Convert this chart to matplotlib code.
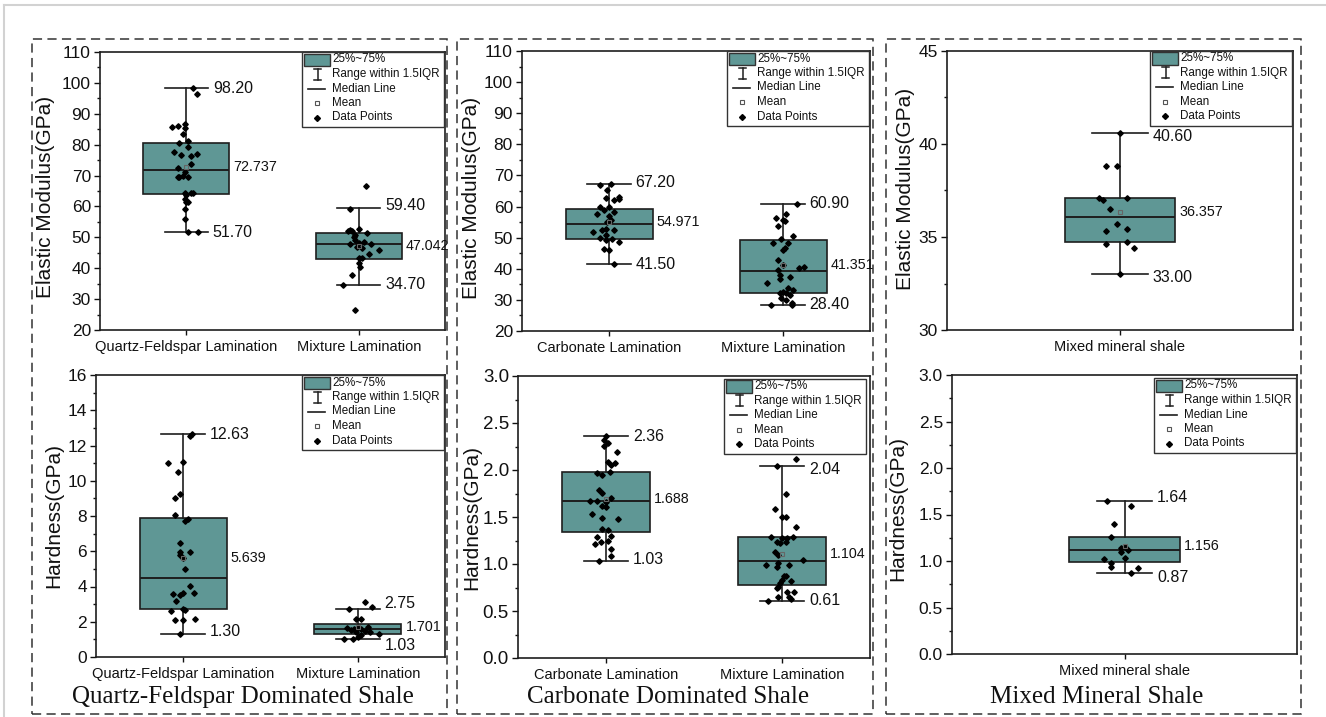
import matplotlib
matplotlib.use("Agg")
import matplotlib.pyplot as plt
import matplotlib.transforms as mtransforms
from matplotlib.patches import Rectangle
from matplotlib.lines import Line2D
from matplotlib.ticker import MultipleLocator, FormatStrFormatter

plt.rcParams['font.family'] = ['Liberation Sans', 'DejaVu Sans']

# ---------------------------------------------------------------- data
qf_cats = ["Quartz-Feldspar Lamination", "Mixture Lamination"]
carb_cats = ["Carbonate Lamination", "Mixture Lamination"]
mixed_cats = ["Mixed mineral shale"]

# Elastic modulus (GPa) - quartz-feldspar dominated shale
em_qf_lam = [98.2, 96.4, 85.7, 85.9, 86.7, 85.4, 83.4, 80.5, 81.1, 79.4, 77.6,
             76.7, 76.9, 76.2, 73.8, 72.4, 71.1, 69.7, 69.5, 69.5, 69.4, 64.5,
             64.3, 64.5, 63.8, 62.4, 61.4, 61.4, 59.1, 56.0, 51.7, 51.7]
em_qf_lam_dx = [0.04, 0.06, -0.08, -0.05, -0.01, -0.01, -0.02, -0.04, 0.01, 0.01,
                -0.07, -0.03, 0.06, 0.03, 0.03, -0.05, -0.01, -0.02, -0.05, -0.04,
                0.01, -0.01, 0.03, 0.04, 0.00, -0.01, 0.00, 0.01, -0.01, -0.01,
                0.01, 0.07]
em_qf_mix = [66.7, 59.3, 52.8, 52.2, 52.4, 51.9, 51.5, 50.8, 50.0, 49.2, 48.3,
             48.4, 47.9, 47.8, 46.8, 46.5, 45.9, 44.5, 43.2, 43.2, 41.8, 40.5,
             37.7, 34.7, 26.5]
em_qf_mix_dx = [0.04, -0.05, 0.00, -0.06, -0.05, -0.04, 0.05, -0.02, -0.03, -0.02,
                0.00, 0.03, 0.07, -0.05, -0.01, 0.02, 0.12, 0.06, 0.00, 0.02,
                0.00, 0.01, -0.04, -0.09, -0.02]
em_qf_whislo = [51.70, 34.70]
em_qf_q1 = [64.0, 43.0]
em_qf_med = [71.8, 47.7]
em_qf_q3 = [80.7, 51.3]
em_qf_whishi = [98.20, 59.40]
em_qf_mean = [72.737, 47.042]

# Elastic modulus (GPa) - carbonate dominated shale
em_carb_lam = [66.8, 67.2, 65.3, 62.6, 62.1, 62.4, 63.0, 59.8, 58.9, 59.8, 57.6,
               58.3, 57.0, 55.7, 55.1, 51.7, 52.5, 52.7, 52.5, 50.9, 49.8, 49.3,
               49.5, 48.7, 46.3, 46.0, 41.5]
em_carb_lam_dx = [-0.05, 0.01, -0.01, -0.02, 0.03, 0.06, 0.06, -0.05, -0.03, 0.00,
                  -0.07, 0.03, 0.00, 0.01, -0.01, -0.09, -0.04, -0.02, 0.03, -0.02,
                  -0.05, -0.02, 0.02, 0.06, -0.03, 0.00, 0.03]
em_carb_mix = [60.9, 57.5, 56.2, 55.5, 55.7, 53.8, 50.5, 49.5, 48.4, 48.2, 46.6,
               46.0, 42.8, 41.2, 40.1, 40.7, 39.6, 38.0, 37.5, 35.5, 36.6, 33.7,
               33.2, 32.6, 32.1, 32.1, 31.6, 30.5, 30.0, 28.9, 28.4, 28.4]
em_carb_mix_dx = [0.08, 0.02, -0.04, 0.01, 0.00, -0.03, 0.06, -0.01, -0.06, 0.03,
                  0.01, 0.00, -0.03, 0.00, 0.09, 0.12, -0.03, -0.02, 0.04, -0.09,
                  -0.02, 0.03, 0.06, 0.00, -0.02, 0.02, 0.04, -0.01, 0.02, 0.05,
                  -0.07, 0.05]
em_carb_whislo = [41.50, 28.40]
em_carb_q1 = [49.6, 32.3]
em_carb_med = [54.3, 39.4]
em_carb_q3 = [59.3, 49.2]
em_carb_whishi = [67.20, 60.90]
em_carb_mean = [54.971, 41.351]

# Elastic modulus (GPa) - mixed mineral shale
em_mixed = [40.6, 38.82, 38.82, 37.11, 36.99, 37.11, 36.51, 35.70, 35.32, 35.41,
            34.61, 34.71, 34.39, 33.0]
em_mixed_dx = [0.00, -0.04, -0.01, -0.06, -0.05, 0.02, -0.03, -0.01, -0.04, 0.02,
               -0.04, 0.02, 0.04, 0.00]
em_mixed_whislo = [33.00]
em_mixed_q1 = [34.71]
em_mixed_med = [36.09]
em_mixed_q3 = [37.08]
em_mixed_whishi = [40.60]
em_mixed_mean = [36.357]

# Hardness (GPa) - quartz-feldspar dominated shale
h_qf_lam = [12.55, 12.63, 11.02, 11.08, 10.51, 9.03, 9.24, 8.05, 7.82, 7.71, 6.48,
            5.96, 5.93, 5.77, 5.64, 5.00, 4.01, 3.58, 3.65, 3.50, 3.63, 3.16, 2.75,
            2.61, 2.65, 2.08, 2.12, 2.18, 1.31]
h_qf_lam_dx = [0.04, 0.05, -0.09, 0.00, -0.03, -0.05, -0.02, -0.05, 0.03, 0.01,
               -0.02, -0.02, 0.04, -0.02, 0.00, 0.01, 0.04, -0.06, 0.00, -0.02,
               0.06, -0.04, 0.00, -0.07, 0.01, -0.05, 0.00, 0.07, -0.02]
h_qf_mix = [3.12, 2.84, 2.75, 2.18, 2.18, 1.67, 1.61, 1.67, 1.51, 1.61, 1.70, 1.42,
            1.46, 1.42, 1.32, 1.23, 1.14, 1.03, 1.04]
h_qf_mix_dx = [0.04, 0.08, -0.05, -0.01, 0.02, -0.06, -0.02, 0.00, -0.04, 0.02,
               0.06, -0.01, 0.04, 0.07, 0.12, 0.02, 0.00, -0.08, -0.03]
h_qf_whislo = [1.30, 1.03]
h_qf_q1 = [2.71, 1.29]
h_qf_med = [4.49, 1.57]
h_qf_q3 = [7.91, 1.89]
h_qf_whishi = [12.63, 2.75]
h_qf_mean = [5.639, 1.701]

# Hardness (GPa) - carbonate dominated shale
h_carb_lam = [2.36, 2.32, 2.29, 2.26, 2.19, 2.09, 2.07, 2.05, 1.97, 1.98, 1.95,
              1.79, 1.76, 1.67, 1.67, 1.70, 1.66, 1.62, 1.61, 1.53, 1.49, 1.48,
              1.37, 1.36, 1.29, 1.30, 1.21, 1.23, 1.24, 1.16, 1.09, 1.03]
h_carb_lam_dx = [0.00, -0.01, 0.01, -0.01, 0.06, 0.01, 0.05, 0.03, -0.05, 0.02,
                 -0.02, -0.04, -0.02, -0.09, -0.05, 0.03, 0.00, -0.02, 0.00, -0.08,
                 -0.02, 0.07, -0.02, 0.01, -0.05, 0.03, -0.06, -0.03, 0.01, 0.03,
                 0.03, -0.04]
h_carb_mix = [2.12, 2.04, 1.75, 1.58, 1.50, 1.50, 1.39, 1.29, 1.28, 1.28, 1.29,
              1.23, 1.22, 1.23, 1.13, 1.10, 1.04, 0.99, 0.97, 0.99, 1.01, 0.87,
              0.87, 0.83, 0.82, 0.80, 0.76, 0.74, 0.70, 0.70, 0.65, 0.65, 0.63,
              0.61]
h_carb_mix_dx = [0.08, -0.03, 0.02, -0.04, 0.00, 0.02, 0.08, -0.06, 0.00, 0.03,
                 0.06, -0.03, -0.01, 0.02, -0.04, -0.02, 0.12, -0.09, -0.03, 0.04,
                 -0.02, 0.01, 0.02, 0.00, 0.05, -0.01, -0.02, -0.03, 0.03, 0.07,
                 -0.02, 0.04, 0.05, -0.08]
h_carb_whislo = [1.03, 0.61]
h_carb_q1 = [1.345, 0.78]
h_carb_med = [1.674, 1.037]
h_carb_q3 = [1.978, 1.288]
h_carb_whishi = [2.36, 2.04]
h_carb_mean = [1.688, 1.104]

# Hardness (GPa) - mixed mineral shale
h_mixed = [1.64, 1.59, 1.40, 1.26, 1.14, 1.15, 1.12, 1.10, 1.02, 1.03, 0.98, 0.94,
           0.93, 0.87]
h_mixed_dx = [-0.05, 0.02, -0.03, -0.04, -0.01, 0.00, 0.01, -0.01, -0.06, 0.00,
              -0.04, -0.04, 0.04, 0.02]
h_mixed_whislo = [0.87]
h_mixed_q1 = [0.988]
h_mixed_med = [1.114]
h_mixed_q3 = [1.261]
h_mixed_whishi = [1.64]
h_mixed_mean = [1.156]

group_titles = ["Quartz-Feldspar Dominated Shale", "Carbonate Dominated Shale",
                "Mixed Mineral Shale"]
key_labels = ["25%~75%", "Range within 1.5IQR", "Median Line", "Mean", "Data Points"]

# ---------------------------------------------------------------- style
W, H, DPI = 1326, 717, 100
BOX_FACE = '#5f9795'
EDGE = '#1e1e1e'
TXT = '#111111'

fig = plt.figure(figsize=(W / DPI, H / DPI), dpi=DPI)
fig.patch.set_facecolor('white')


def px_axes(l, t, r, b):
    return fig.add_axes([l / W, 1 - b / H, (r - l) / W, (b - t) / H])


def draw_key(ax, inset_x=0, inset_y=0):
    """Boxplot key drawn in pixel units from the axes' top-right corner."""
    tr = (mtransforms.Affine2D().scale(fig.dpi / DPI)
          + mtransforms.ScaledTranslation(1, 1, ax.transAxes))
    L = -142 - inset_x
    T = -inset_y
    kw = dict(transform=tr, clip_on=False, zorder=8)
    ax.add_patch(Rectangle((L, T - 75), 142, 75, fc='white', ec='#333333',
                           lw=1.0, **kw))
    ax.add_patch(Rectangle((L + 1.5, T - 14), 26, 12.5, fc=BOX_FACE, ec='#333333',
                           lw=1.0, transform=tr, clip_on=False, zorder=9))
    ax.add_line(Line2D([L + 15.5, L + 15.5], [T - 16.5, T - 27.5], color=EDGE,
                       lw=1.1, **kw))
    for yy in (T - 16.5, T - 27.5):
        ax.add_line(Line2D([L + 12, L + 19], [yy, yy], color=EDGE, lw=1.1, **kw))
    ax.add_line(Line2D([L + 5.5, L + 22.5], [T - 36.5, T - 36.5], color=EDGE,
                       lw=1.2, **kw))
    ax.add_line(Line2D([L + 15], [T - 51], marker='s', ms=3, mfc='white',
                       mec='#555555', mew=0.8, ls='none', **kw))
    ax.add_line(Line2D([L + 15], [T - 65.5], marker='D', ms=3, mfc='black',
                       mec='black', ls='none', **kw))
    for lab, yy in zip(key_labels, [7.5, 22, 36.5, 51, 65.5]):
        ax.text(L + 30, T - yy, lab, fontsize=8.4, va='center', ha='left',
                color=TXT, **kw)


def draw_panel(ax, cats, whislo, q1, med, q3, whishi, means, pts, dxs, width,
               ylim, major, minor, ylabel, label_xy, whisk_nudge, tick_fs=12.5,
               yfmt=None):
    n = len(cats)
    pos = list(range(1, n + 1))
    stats = [dict(whislo=whislo[i], q1=q1[i], med=med[i], q3=q3[i],
                  whishi=whishi[i], fliers=[]) for i in range(n)]
    capw = width / 2
    ax.bxp(stats, positions=pos, widths=width, capwidths=capw,
           patch_artist=True, showfliers=False, manage_ticks=False,
           boxprops=dict(facecolor=BOX_FACE, edgecolor=EDGE, linewidth=1.2),
           whiskerprops=dict(color=EDGE, linewidth=1.2),
           capprops=dict(color=EDGE, linewidth=1.2),
           medianprops=dict(color=EDGE, linewidth=1.4))
    for i in range(n):
        xs = [pos[i] + d for d in dxs[i]]
        ax.plot(xs, pts[i], ls='none', marker='D', ms=2.8, mfc='black',
                mec='black', zorder=4, clip_on=False)
        ax.plot([pos[i]], [means[i]], ls='none', marker='s', ms=3.2,
                mfc='none', mec='#666666', mew=0.8, zorder=5)
        for v, dy in zip((whishi[i], whislo[i]), whisk_nudge[i]):
            ax.annotate(f"{v:.2f}", xy=(pos[i] + capw / 2, v), xytext=(5, dy),
                        textcoords='offset pixels', va='center', ha='left',
                        fontsize=11.5, color=TXT, annotation_clip=False)
        ax.annotate(f"{means[i]:.3f}", xy=(pos[i] + width / 2, means[i]),
                    xytext=(4, 0), textcoords='offset pixels', va='center',
                    ha='left', fontsize=10.3, color=TXT, annotation_clip=False)

    ax.set_xlim(0.5, n + 0.5)
    ax.set_ylim(*ylim)
    ax.set_xticks(pos)
    ax.set_xticklabels(cats)
    ax.yaxis.set_major_locator(MultipleLocator(major))
    ax.yaxis.set_minor_locator(MultipleLocator(minor))
    if yfmt:
        ax.yaxis.set_major_formatter(FormatStrFormatter(yfmt))
    ax.tick_params(axis='y', which='major', direction='out', length=4, width=1,
                   labelsize=tick_fs, pad=2.5, colors=TXT)
    ax.tick_params(axis='y', which='minor', direction='out', length=2.3, width=1,
                   colors=TXT)
    ax.tick_params(axis='x', which='major', direction='out', length=3.6, width=1,
                   labelsize=10.5, pad=3.5, colors=TXT)
    for sp in ax.spines.values():
        sp.set_linewidth(1.2)
        sp.set_color(EDGE)
    ax.set_ylabel(ylabel, fontsize=15, color=TXT)
    ax.yaxis.set_label_coords(*label_xy)
    ax.yaxis.label.set_va('center')


EM = "Elastic Modulus(GPa)"
HD = "Hardness(GPa)"

ax_tl = px_axes(100, 52, 445, 330)
draw_panel(ax_tl, qf_cats, em_qf_whislo, em_qf_q1, em_qf_med, em_qf_q3,
           em_qf_whishi, em_qf_mean, [em_qf_lam, em_qf_mix],
           [em_qf_lam_dx, em_qf_mix_dx], 0.5, (20, 110), 10, 5, EM,
           (-0.159, 0.478), [(0, 0), (3, 0)])
draw_key(ax_tl, 1, 0)

ax_tm = px_axes(522, 51, 870, 331)
draw_panel(ax_tm, carb_cats, em_carb_whislo, em_carb_q1, em_carb_med,
           em_carb_q3, em_carb_whishi, em_carb_mean, [em_carb_lam, em_carb_mix],
           [em_carb_lam_dx, em_carb_mix_dx], 0.5, (20, 110), 10, 5, EM,
           (-0.145, 0.475), [(2, 0), (0, 0)])
draw_key(ax_tm, 1, 0)

ax_tr = px_axes(947, 51, 1293, 330)
draw_panel(ax_tr, mixed_cats, em_mixed_whislo, em_mixed_q1, em_mixed_med,
           em_mixed_q3, em_mixed_whishi, em_mixed_mean, [em_mixed],
           [em_mixed_dx], 0.32, (30, 45), 5, 2.5, EM, (-0.121, 0.505),
           [(-4, -3.5)])
draw_key(ax_tr, 1, 0)

ax_bl = px_axes(96, 375, 445, 657)
draw_panel(ax_bl, qf_cats, h_qf_whislo, h_qf_q1, h_qf_med, h_qf_q3, h_qf_whishi,
           h_qf_mean, [h_qf_lam, h_qf_mix], [h_qf_lam_dx, h_qf_mix_dx], 0.5,
           (0, 16), 2, 1, HD, (-0.122, 0.5), [(0, 3), (5, -7)])
draw_key(ax_bl, 1, 0)

ax_bm = px_axes(518, 376, 870, 658)
draw_panel(ax_bm, carb_cats, h_carb_whislo, h_carb_q1, h_carb_med, h_carb_q3,
           h_carb_whishi, h_carb_mean, [h_carb_lam, h_carb_mix],
           [h_carb_lam_dx, h_carb_mix_dx], 0.5, (0, 3), 0.5, 0.25, HD,
           (-0.132, 0.5), [(0, 2), (-3, 0)], tick_fs=13.5, yfmt='%.1f')
draw_key(ax_bm, 4, 3)

ax_br = px_axes(952, 375, 1297, 654)
draw_panel(ax_br, mixed_cats, h_mixed_whislo, h_mixed_q1, h_mixed_med,
           h_mixed_q3, h_mixed_whishi, h_mixed_mean, [h_mixed], [h_mixed_dx],
           0.32, (0, 3), 0.5, 0.25, HD, (-0.157, 0.52), [(3.5, -4)],
           yfmt='%.1f')
draw_key(ax_br, 1, 3)

# dashed frames around each shale group, with the group name underneath
frames = [(32, 447), (457, 873), (886, 1301)]
for (x0, x1), title in zip(frames, group_titles):
    fig.add_artist(Rectangle((x0 / W, 1 - 714 / H), (x1 - x0) / W, (714 - 39) / H,
                             transform=fig.transFigure, fill=False,
                             ec='#333333', lw=1.1, ls=(0, (6, 3.5))))
    fig.text((x0 + x1) / 2 / W + 3 / W, 1 - 697 / H, title,
             family=['Liberation Serif', 'DejaVu Serif'], fontsize=18,
             ha='center', va='center', color=TXT)

# thin outer border
fig.add_artist(Line2D([4 / W, 1], [1 - 5 / H, 1 - 5 / H],
                      transform=fig.transFigure, color='#d2d2d2', lw=1.5))
fig.add_artist(Line2D([4 / W, 4 / W], [0, 1 - 5 / H],
                      transform=fig.transFigure, color='#d2d2d2', lw=1.5))

fig.savefig("out.png", dpi=DPI)
